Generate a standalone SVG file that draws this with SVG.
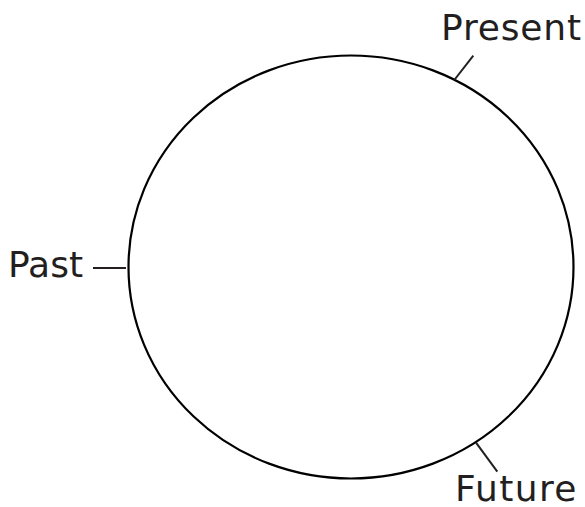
<svg xmlns="http://www.w3.org/2000/svg" width="585" height="507" viewBox="0 0 585 507">
<style>
.t{font-family:"DejaVu Sans",Verdana,sans-serif;font-size:36px;fill:#231f20}
.l{stroke:#231f20;stroke-width:2;fill:none}
</style>
<rect width="585" height="507" fill="#fff"/>
<g id="cycle"><ellipse cx="351" cy="267" rx="222.5" ry="211.5" fill="none" stroke="#000" stroke-width="2.2"/></g>
<g id="connectors">
<line class="l" x1="473.3" y1="55.7" x2="454.3" y2="80"/>
<line class="l" x1="93" y1="268" x2="126" y2="268"/>
<line class="l" x1="476" y1="442.7" x2="497.3" y2="471.7"/>
</g>
<g id="present"><text class="t" x="441" y="40" textLength="140" lengthAdjust="spacing">Present</text></g>
<g id="past"><text class="t" x="8" y="277">Past</text></g>
<g id="future"><text class="t" x="455" y="501" textLength="121.5" lengthAdjust="spacing">Future</text></g>
</svg>
